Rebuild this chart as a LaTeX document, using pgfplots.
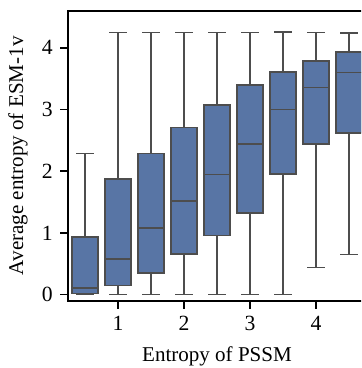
\documentclass[border=0pt]{standalone}
\usepackage{pgfplots}
\pgfplotsset{compat=1.18}
\usepgfplotslibrary{statistics}
\usepackage{fontspec}
\setmainfont{Liberation Serif}
\definecolor{boxfill}{RGB}{88,117,165}
\definecolor{boxedge}{RGB}{77,77,77}
\begin{document}
\begin{tikzpicture}
\clip (-32.64pt,-32.3pt) rectangle (140.64pt,144.3pt);
\useasboundingbox (-32.64pt,-32.3pt) rectangle (140.64pt,144.3pt);
\begin{axis}[
  scale only axis,
  width=143.0pt, height=139.1pt,
  xmin=0.242, xmax=4.758,
  ymin=-0.1, ymax=4.6,
  xtick={1,2,3,4}, ytick={0,1,2,3,4},
  tick align=outside,
  tick pos=left,
  major tick length=3.8pt,
  every tick/.style={black, line width=0.9pt},
  axis line style={line width=0.9pt},
  /pgf/number format/assume math mode=true,
  tick label style={font=\fontsize{10.4}{12}\selectfont},
  label style={font=\fontsize{10.1}{12}\selectfont},
  xlabel={Entropy of PSSM},
  ylabel={Average entropy of ESM-1v},
  ylabel style={at={(axis description cs:0,0.5)}, anchor=south, yshift=15.8pt},
  xlabel style={yshift=-1pt},
  boxplot/draw direction=y,
  boxplot/box extend=0.4,
  boxplot/whisker extend=0.27,
  boxstyle/.style={draw=boxedge, fill=boxfill, line width=0.75pt, solid, mark=none},
]
\addplot[boxstyle, boxplot prepared={draw position=0.5, lower whisker=0, lower quartile=0.02, median=0.11, upper quartile=0.93, upper whisker=2.29}] coordinates {};
\addplot[boxstyle, boxplot prepared={draw position=1.0, lower whisker=0, lower quartile=0.146, median=0.58, upper quartile=1.87, upper whisker=4.25}] coordinates {};
\addplot[boxstyle, boxplot prepared={draw position=1.5, lower whisker=0, lower quartile=0.35, median=1.076, upper quartile=2.29, upper whisker=4.25}] coordinates {};
\addplot[boxstyle, boxplot prepared={draw position=2.0, lower whisker=0, lower quartile=0.655, median=1.52, upper quartile=2.71, upper whisker=4.25}] coordinates {};
\addplot[boxstyle, boxplot prepared={draw position=2.5, lower whisker=0, lower quartile=0.96, median=1.945, upper quartile=3.07, upper whisker=4.25}] coordinates {};
\addplot[boxstyle, boxplot prepared={draw position=3.0, lower whisker=0, lower quartile=1.32, median=2.44, upper quartile=3.40, upper whisker=4.25}] coordinates {};
\addplot[boxstyle, boxplot prepared={draw position=3.5, lower whisker=0, lower quartile=1.95, median=3.0, upper quartile=3.61, upper whisker=4.26}] coordinates {};
\addplot[boxstyle, boxplot prepared={draw position=4.0, lower whisker=0.44, lower quartile=2.44, median=3.355, upper quartile=3.79, upper whisker=4.25}] coordinates {};
\addplot[boxstyle, boxplot prepared={draw position=4.5, lower whisker=0.65, lower quartile=2.62, median=3.60, upper quartile=3.93, upper whisker=4.24}] coordinates {};
\end{axis}
\end{tikzpicture}
\end{document}
